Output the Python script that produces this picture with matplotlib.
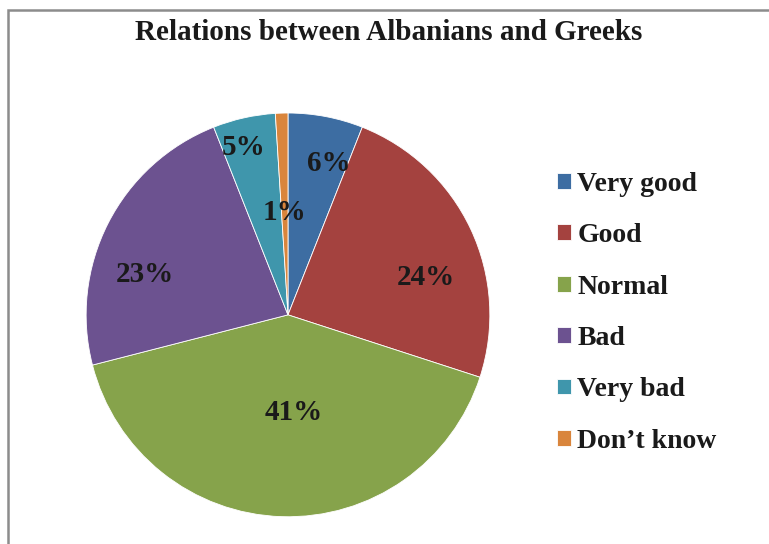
import numpy as np
import matplotlib.pyplot as plt
from matplotlib.patches import Rectangle

# datos del gráfico
categorias = ['Very good', 'Good', 'Normal', 'Bad', 'Very bad', 'Don\u2019t know']
valores = [6, 24, 41, 23, 5, 1]
colores = ['#3D6DA2', '#A4423F', '#86A34B', '#6C5290', '#3F96AC', '#D9853C']
etiquetas = ['6%', '24%', '41%', '23%', '5%', '1%']

# posición de las etiquetas (fracción del radio y desplazamiento angular)
dist_etiq = [0.79, 0.71, 0.47, 0.74, 0.87, 0.52]
giro_etiq = [-4, -9, 5, 10, 2, 0]

plt.rcParams['font.family'] = ['Liberation Serif', 'DejaVu Serif']

fig = plt.figure(figsize=(7.69, 5.44), dpi=100)

# marco gris del gráfico
fig.patches.append(Rectangle((8 / 769, -0.05), 1.1, (544 - 10) / 544 + 0.05,
                             transform=fig.transFigure, fill=False,
                             edgecolor='#8c8c8c', linewidth=1.8))

ax = fig.add_axes([0.112, 0.0497, 0.525, 0.743])
wedges, _ = ax.pie(valores, colors=colores, startangle=90, counterclock=False,
                   wedgeprops=dict(edgecolor='white', linewidth=0.6))
ax.set_xlim(-1, 1)
ax.set_ylim(-1, 1)
ax.set_aspect('equal')

for w, txt, d, g in zip(wedges, etiquetas, dist_etiq, giro_etiq):
    ang = np.deg2rad((w.theta1 + w.theta2) / 2 + g)
    ax.text(d * np.cos(ang), d * np.sin(ang), txt, ha='center', va='center_baseline',
            fontsize=21, fontweight='bold', color='#1a1a1a')

fig.text(0.506, 0.941, 'Relations between Albanians and Greeks', ha='center',
         va='center', fontsize=21, fontweight='bold', color='#1a1a1a')

fig.legend(wedges, categorias, loc='center left', bbox_to_anchor=(0.692, 0.425),
           frameon=False, prop=dict(size=20, weight='bold'),
           handlelength=0.5, handleheight=0.5, handletextpad=0.22,
           labelspacing=0.95, labelcolor='#1a1a1a')

fig.savefig('out.png', dpi=100)
